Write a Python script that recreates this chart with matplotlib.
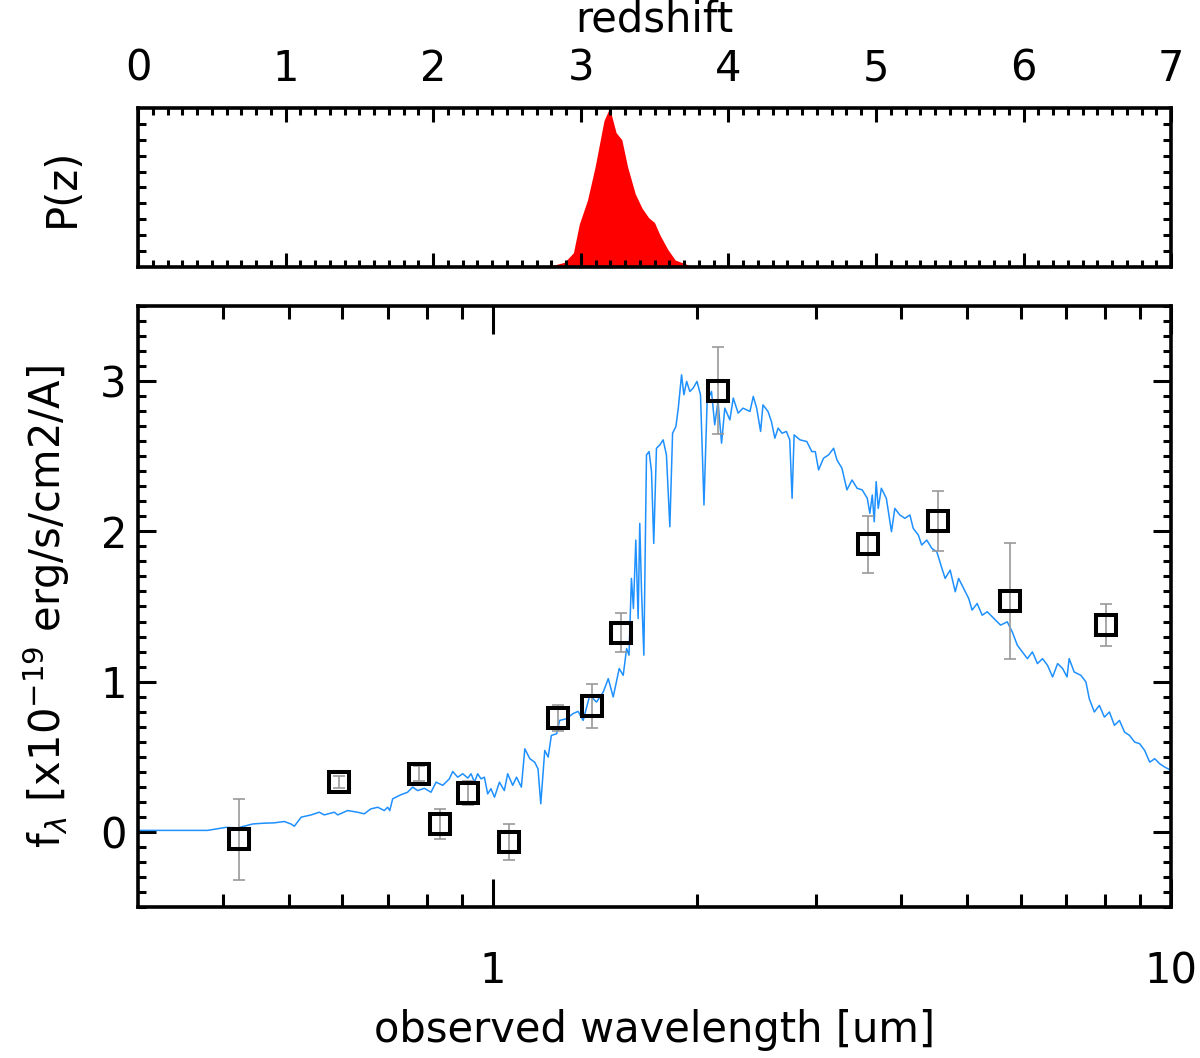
import numpy as np
import matplotlib
matplotlib.use("Agg")
import matplotlib.pyplot as plt
from matplotlib.ticker import FixedLocator, NullFormatter, MultipleLocator

# redshift probability distribution (peak normalised to 1)
z_grid = [2.70, 2.82, 2.89, 2.95, 2.99, 3.045, 3.097, 3.157, 3.195, 3.239, 3.278,
          3.317, 3.369, 3.415, 3.46, 3.499, 3.537, 3.59, 3.64, 3.71, 3.76, 3.85]
pz = [0.0, 0.013, 0.03, 0.09, 0.27, 0.42, 0.63, 0.92, 1.0, 0.845, 0.80,
      0.63, 0.46, 0.37, 0.31, 0.28, 0.20, 0.11, 0.044, 0.02, 0.0, 0.0]

# photometry
phot_wl = [0.422, 0.593, 0.779, 0.835, 0.920, 1.058, 1.249, 1.399, 1.545,
           2.150, 3.577, 4.531, 5.779, 8.017]
phot_f = [-0.05, 0.335, 0.387, 0.05, 0.26, -0.07, 0.758, 0.836, 1.325,
          2.935, 1.913, 2.069, 1.538, 1.376]
phot_err = [0.27, 0.04, 0.05, 0.10, 0.08, 0.12, 0.085, 0.145, 0.13,
            0.29, 0.19, 0.20, 0.385, 0.14]

# best-fit template spectrum (um, 1e-19 erg/s/cm2/A)
sed_wl = [0.300, 0.380, 0.404, 0.421, 0.430, 0.443, 0.4605, 0.476, 0.493, 0.504,
          0.510, 0.522, 0.540, 0.555, 0.5645, 0.584, 0.591, 0.611, 0.632, 0.6465,
          0.661, 0.677, 0.692, 0.700, 0.705, 0.712, 0.732, 0.749, 0.762, 0.775,
          0.793, 0.811, 0.825, 0.844, 0.863, 0.873, 0.888, 0.903, 0.919, 0.929,
          0.940, 0.950, 0.961, 0.972, 0.983, 0.994, 1.006, 1.023, 1.040, 1.052,
          1.070, 1.084, 1.102, 1.115, 1.134, 1.153, 1.166, 1.177, 1.193, 1.207,
          1.220, 1.242, 1.255, 1.284, 1.313, 1.336, 1.359, 1.390, 1.422, 1.455,
          1.480, 1.505, 1.536, 1.557, 1.575, 1.588, 1.601, 1.612, 1.625, 1.638,
          1.647, 1.657, 1.670, 1.685, 1.700, 1.714, 1.727, 1.743, 1.763, 1.783,
          1.803, 1.824, 1.841, 1.862, 1.877, 1.898, 1.913, 1.931, 1.952, 1.974,
          2.000, 2.024, 2.048, 2.070, 2.101, 2.124, 2.148, 2.174, 2.198, 2.236,
          2.262, 2.300, 2.338, 2.394, 2.421, 2.449, 2.482, 2.502, 2.545, 2.575,
          2.605, 2.634, 2.670, 2.709, 2.740, 2.762, 2.781, 2.837, 2.903, 2.953,
          2.988, 3.022, 3.073, 3.126, 3.180, 3.216, 3.271, 3.327, 3.385, 3.444,
          3.504, 3.565, 3.596, 3.626, 3.650, 3.674, 3.700, 3.739, 3.803, 3.870,
          3.914, 3.981, 4.050, 4.120, 4.166, 4.239, 4.288, 4.362, 4.438, 4.514,
          4.593, 4.643, 4.723, 4.805, 4.860, 4.944, 5.030, 5.088, 5.176, 5.265,
          5.356, 5.479, 5.604, 5.732, 5.831, 5.932, 6.034, 6.138, 6.244, 6.351,
          6.461, 6.572, 6.686, 6.801, 6.918, 7.022, 7.073, 7.195, 7.360, 7.487,
          7.572, 7.703, 7.836, 7.971, 8.108, 8.248, 8.390, 8.535, 8.682, 8.832,
          8.984, 9.139, 9.297, 9.457, 9.620, 9.786, 10.0]
sed_f = [0.01, 0.01, 0.03, 0.027, 0.038, 0.053, 0.058, 0.06, 0.069, 0.053,
         0.038, 0.098, 0.113, 0.131, 0.113, 0.131, 0.113, 0.142, 0.131, 0.12,
         0.153, 0.164, 0.142, 0.164, 0.142, 0.22, 0.247, 0.264, 0.298, 0.275,
         0.29, 0.264, 0.331, 0.31, 0.353, 0.402, 0.364, 0.387, 0.358, 0.387,
         0.331, 0.387, 0.353, 0.364, 0.253, 0.287, 0.231, 0.331, 0.275, 0.387,
         0.31, 0.364, 0.298, 0.553, 0.487, 0.464, 0.42, 0.187, 0.542, 0.498,
         0.642, 0.653, 0.742, 0.753, 0.787, 0.802, 0.742, 0.909, 0.864, 0.931,
         1.02, 0.898, 1.087, 1.042, 1.22, 1.176, 1.687, 1.487, 1.942, 1.42,
         2.053, 1.598, 1.176, 2.509, 2.531, 2.398, 1.92, 2.553, 2.575, 2.609,
         2.509, 2.031, 2.653, 2.698, 2.82, 3.042, 2.909, 2.998, 2.931, 2.953,
         2.998, 2.909, 2.176, 2.865, 2.931, 2.709, 2.865, 2.587, 2.82, 2.742,
         2.887, 2.787, 2.82, 2.798, 2.898, 2.82, 2.665, 2.842, 2.798, 2.731,
         2.62, 2.687, 2.653, 2.665, 2.609, 2.22, 2.642, 2.609, 2.598, 2.531,
         2.531, 2.409, 2.487, 2.509, 2.553, 2.476, 2.42, 2.276, 2.342, 2.287,
         2.276, 2.22, 2.12, 2.242, 2.064, 2.331, 2.153, 2.287, 2.22, 1.998,
         2.153, 2.109, 2.087, 2.109, 2.02, 1.976, 1.909, 1.942, 1.887, 1.864,
         1.753, 1.687, 1.742, 1.598, 1.687, 1.62, 1.553, 1.476, 1.52, 1.442,
         1.465, 1.42, 1.376, 1.398, 1.331, 1.242, 1.198, 1.153, 1.198, 1.12,
         1.153, 1.109, 1.031, 1.12, 1.087, 1.031, 1.153, 1.064, 1.042, 0.998,
         0.887, 0.798, 0.842, 0.764, 0.798, 0.709, 0.742, 0.664, 0.642, 0.598,
         0.587, 0.542, 0.464, 0.487, 0.453, 0.431, 0.409]

FS = 30
plt.rcParams['font.family'] = 'DejaVu Sans'
plt.rcParams['font.size'] = FS

fig = plt.figure(figsize=(12, 10.58), dpi=100)

# top panel: P(z)
ax1 = fig.add_axes([0.115, 0.7476, 0.861, 0.1504])
ax1.fill_between(z_grid, pz, 0, color='#ff0000', lw=0)
ax1.set_xlim(0, 7)
ax1.set_ylim(0, 1.0)
ax1.xaxis.set_major_locator(MultipleLocator(1))
ax1.xaxis.set_minor_locator(MultipleLocator(0.1))
ax1.yaxis.set_major_locator(FixedLocator([]))
ax1.yaxis.set_minor_locator(FixedLocator(np.arange(0.1, 0.95, 0.1)))
ax1.tick_params(axis='x', which='both', direction='in', top=True, bottom=True,
                labeltop=True, labelbottom=False, width=2.2, pad=13, labelsize=FS)
ax1.tick_params(axis='x', which='major', length=10)
ax1.tick_params(axis='x', which='minor', length=5)
ax1.tick_params(axis='y', which='minor', direction='in', left=True, right=True,
                length=6, width=2.2)
ax1.set_xlabel('redshift', fontsize=FS, labelpad=12)
ax1.xaxis.set_label_position('top')
ax1.set_ylabel('P(z)', fontsize=FS, labelpad=36)
for s in ax1.spines.values():
    s.set_linewidth(2.6)

# bottom panel: SED
ax2 = fig.add_axes([0.115, 0.1427, 0.861, 0.5681])
ax2.plot(sed_wl, sed_f, color='#1e90ff', lw=1.1, zorder=2)
ax2.errorbar(phot_wl, phot_f, yerr=phot_err, fmt='none', ecolor='#999999',
             elinewidth=1.2, capsize=4.3, capthick=1.2, zorder=3)
ax2.plot(phot_wl, phot_f, 's', mfc='none', mec='black', mew=2.9, ms=14, zorder=4)
ax2.set_xscale('log')
ax2.set_xlim(0.3, 10)
ax2.set_ylim(-0.5, 3.5)
ax2.xaxis.set_major_locator(FixedLocator([1, 10]))
ax2.xaxis.set_minor_locator(FixedLocator([0.4, 0.5, 0.6, 0.7, 0.8, 0.9,
                                          2, 3, 4, 5, 6, 7, 8, 9]))
ax2.xaxis.set_minor_formatter(NullFormatter())
ax2.set_xticklabels(['1', '10'])
ax2.yaxis.set_major_locator(MultipleLocator(1))
ax2.yaxis.set_minor_locator(MultipleLocator(0.1))
ax2.tick_params(axis='x', which='both', direction='in', top=True, bottom=True,
                width=2.2, pad=31, labelsize=FS)
ax2.tick_params(axis='x', which='major', length=20)
ax2.tick_params(axis='x', which='minor', length=9.5)
ax2.tick_params(axis='y', which='both', direction='in', left=True, right=True,
                width=2.2, pad=8, labelsize=FS)
ax2.tick_params(axis='y', which='major', length=13)
ax2.tick_params(axis='y', which='minor', length=6)
ax2.set_xlabel('observed wavelength [um]', fontsize=FS, labelpad=12)
ax2.set_ylabel(r'f$_\lambda$ [x10$^{-19}$ erg/s/cm2/A]', fontsize=FS, labelpad=20)
for s in ax2.spines.values():
    s.set_linewidth(2.6)

plt.savefig('out.png', dpi=100)
